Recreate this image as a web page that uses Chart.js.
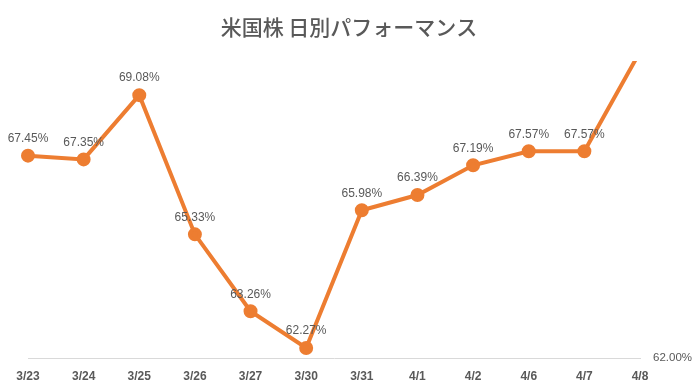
<!DOCTYPE html>
<html>
<head>
<meta charset="utf-8">
<script src="https://cdn.jsdelivr.net/npm/chart.js@4"></script>
<style>
  html, body { margin: 0; padding: 0; background: #fff; }
  #wrap { width: 698px; height: 392px; }
</style>
</head>
<body>
<div id="wrap"><canvas id="myChart" width="698" height="392"></canvas></div>
<script>
// Datos del gráfico
const titulo = '米国株 日別パフォーマンス';
const fechas = ['3/23', '3/24', '3/25', '3/26', '3/27', '3/30', '3/31', '4/1', '4/2', '4/6', '4/7', '4/8'];
const rendimiento = [67.45, 67.35, 69.08, 65.33, 63.26, 62.27, 65.98, 66.39, 67.19, 67.57, 67.57, 70.25];
const ejeMin = 62;
const ejeMax = 70;

const gris = '#595959';

// título centrado en el lienzo y etiquetas de datos encima de cada punto
const etiquetas = {
  id: 'etiquetas',
  afterDraw(chart) {
    const ctx = chart.ctx;
    const area = chart.chartArea;
    const meta = chart.getDatasetMeta(0);
    ctx.save();
    ctx.fillStyle = gris;
    ctx.textAlign = 'center';
    ctx.textBaseline = 'middle';
    ctx.font = '500 21px "Noto Sans CJK JP", sans-serif';
    ctx.fillText(titulo, chart.width / 2, 27);
    ctx.font = '12px "Liberation Sans", Arial, sans-serif';
    meta.data.forEach((p, i) => {
      if (p.y < area.top) return; // fuera del área (4/8)
      ctx.fillText(rendimiento[i].toFixed(2) + '%', p.x, p.y - 17);
    });
    ctx.restore();
  }
};

const ctx = document.getElementById('myChart').getContext('2d');
const myChart = new Chart(ctx, {
  type: 'line',
  data: {
    labels: fechas,
    datasets: [{
      data: rendimiento,
      borderColor: '#ED7D31',
      backgroundColor: '#ED7D31',
      borderWidth: 4,
      pointRadius: 5,
      pointHoverRadius: 5,
      tension: 0,
      clip: { left: 10, right: 10, bottom: 10, top: 0 }
    }]
  },
  options: {
    responsive: false,
    animation: false,
    layout: { padding: { left: 28, right: 0, top: 61, bottom: 0 } },
    plugins: {
      legend: { display: false },
      tooltip: { enabled: false },
      title: { display: false }
    },
    scales: {
      x: {
        offset: false,
        grid: { display: false, drawTicks: false },
        border: { display: true, color: '#d9d9d9', width: 1 },
        ticks: {
          color: gris,
          padding: 11,
          maxRotation: 0,
          autoSkip: false,
          font: { family: '"Liberation Sans", Arial, sans-serif', size: 12, weight: 'bold' }
        },
        afterFit(scale) { scale.height = 34; }
      },
      y: {
        position: 'right',
        min: ejeMin,
        max: ejeMax,
        grid: { display: false, drawTicks: false },
        border: { display: false },
        ticks: {
          color: gris,
          padding: 13,
          font: { family: '"Liberation Sans", Arial, sans-serif', size: 11.5 },
          callback: v => v === ejeMin ? v.toFixed(2) + '%' : ''
        },
        afterFit(scale) { scale.width = 58; }
      }
    }
  },
  plugins: [etiquetas]
});
</script>
</body>
</html>
